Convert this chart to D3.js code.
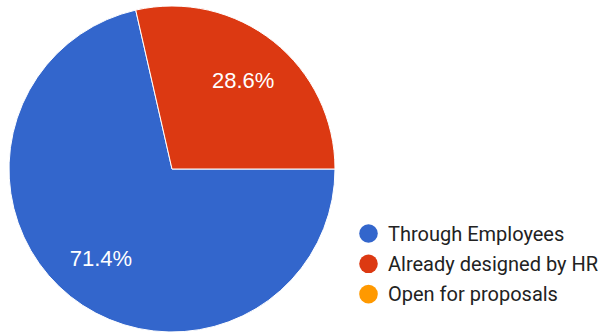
<!DOCTYPE html>
<html>
<head>
<meta charset="utf-8">
<script src="https://cdn.jsdelivr.net/npm/d3@7"></script>
<style>
  html, body { margin: 0; padding: 0; background: #fff; }
  svg { display: block; }
</style>
</head>
<body>
<div id="chart"></div>
<script>
// Responses by source
const categories = ["Through Employees", "Already designed by HR", "Open for proposals"];
const counts = [5, 2, 0];
const colors = ["#3366cc", "#dc3912", "#ff9900"];

const width = 605, height = 334;
const cx = 172, cy = 169, radius = 163;

const svg = d3.select("#chart").append("svg")
  .attr("width", width)
  .attr("height", height);

const data = categories.map((c, i) => ({ name: c, value: counts[i], color: colors[i] }));
const total = d3.sum(counts);

// first slice begins at 3 o'clock and runs clockwise
const pie = d3.pie()
  .value(d => d.value)
  .sort(null)
  .startAngle(Math.PI / 2)
  .endAngle(Math.PI / 2 + 2 * Math.PI);

const arcs = pie(data).filter(d => d.value > 0);
const arc = d3.arc().innerRadius(0).outerRadius(radius);
const labelArc = d3.arc().innerRadius(radius * 0.7).outerRadius(radius * 0.7);

const g = svg.append("g").attr("transform", `translate(${cx},${cy})`);

g.selectAll("path.slice")
  .data(arcs)
  .join("path")
  .attr("class", "slice")
  .attr("d", arc)
  .attr("fill", d => d.data.color)
  .attr("stroke", "#ffffff")
  .attr("stroke-width", 1);

const pct = d3.format(".1%");
g.selectAll("text.pct")
  .data(arcs)
  .join("text")
  .attr("class", "pct")
  .attr("transform", d => `translate(${labelArc.centroid(d)})`)
  .attr("text-anchor", "middle")
  .attr("dy", "0.36em")
  .attr("font-family", "Arial, 'Liberation Sans', sans-serif")
  .attr("font-size", 22)
  .attr("fill", "#ffffff")
  .text(d => pct(d.value / total));

// legend
const legend = svg.append("g").attr("transform", "translate(368.5,233.5)");
const rows = legend.selectAll("g.row")
  .data(data)
  .join("g")
  .attr("class", "row")
  .attr("transform", (d, i) => `translate(0,${i * 30.3})`);

rows.append("circle")
  .attr("r", 9.3)
  .attr("fill", d => d.color);

rows.append("text")
  .attr("x", 19.5)
  .attr("dy", "0.36em")
  .attr("font-family", "Roboto, Arial, sans-serif")
  .attr("font-size", 20)
  .attr("fill", "#222222")
  .text(d => d.name);
</script>
</body>
</html>
